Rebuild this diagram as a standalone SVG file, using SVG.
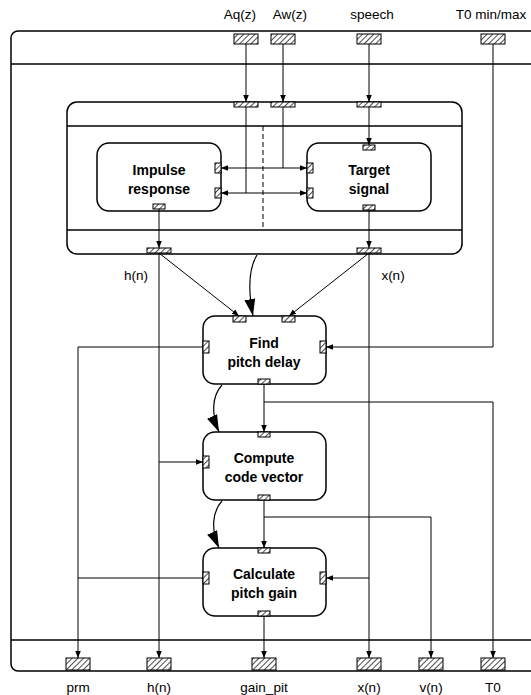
<svg xmlns="http://www.w3.org/2000/svg" width="531" height="695" viewBox="0 0 531 695">
<defs>
<pattern id="hatch" width="4" height="4" patternUnits="userSpaceOnUse" patternTransform="rotate(45)">
<rect width="4" height="4" fill="#fff"/>
<line x1="0" y1="0" x2="0" y2="4" stroke="#000" stroke-width="1.4"/>
</pattern>
<marker id="a" viewBox="0 0 10 10" refX="10" refY="5" markerWidth="7" markerHeight="7" markerUnits="userSpaceOnUse" orient="auto">
<path d="M0,1 L10,5 L0,9 z" fill="#000"/>
</marker>
<marker id="big" viewBox="0 0 10 10" refX="10" refY="5" markerWidth="17" markerHeight="17" markerUnits="userSpaceOnUse" orient="auto">
<path d="M0,1.8 L10,5 L0,8.2 z" fill="#000"/>
</marker>
</defs>
<style>
.frame{fill:#fff;stroke:#000;stroke-width:1.5}
.sep{stroke:#000;stroke-width:1.5;fill:none}
.node{fill:#fff;stroke:#000;stroke-width:1.5}
.port{fill:url(#hatch);stroke:#000;stroke-width:1}
.w{stroke:#000;stroke-width:1;fill:none}
.arr{marker-end:url(#a)}
.curve{stroke:#000;stroke-width:1.2;fill:none;marker-end:url(#big)}
.lbl{font-family:"Liberation Sans",Arial,sans-serif;font-size:13.5px;fill:#000;text-anchor:middle}
.nl{font-family:"Liberation Sans",Arial,sans-serif;font-size:14px;font-weight:bold;fill:#000;text-anchor:middle}
</style>

<g id="outer">
<rect class="frame" x="11" y="31" width="532" height="640" rx="7"/>
<line class="sep" x1="11" y1="64" x2="531" y2="64"/>
<line class="sep" x1="11" y1="640" x2="531" y2="640"/>
<rect class="port" x="234" y="34" width="24" height="10"/>
<rect class="port" x="271" y="34" width="24" height="10"/>
<rect class="port" x="357" y="34" width="24" height="10"/>
<rect class="port" x="481" y="34" width="24" height="10"/>
<rect class="port" x="66" y="658" width="24" height="12"/>
<rect class="port" x="147" y="658" width="24" height="12"/>
<rect class="port" x="252" y="658" width="24" height="12"/>
<rect class="port" x="357" y="658" width="24" height="12"/>
<rect class="port" x="419" y="658" width="24" height="12"/>
<rect class="port" x="481" y="658" width="24" height="12"/>
<text class="lbl" x="240" y="19">Aq(z)</text>
<text class="lbl" x="290" y="19">Aw(z)</text>
<text class="lbl" x="372" y="19">speech</text>
<text class="lbl" x="491" y="19">T0 min/max</text>
<text class="lbl" x="78" y="692">prm</text>
<text class="lbl" x="159" y="692">h(n)</text>
<text class="lbl" x="264" y="692">gain_pit</text>
<text class="lbl" x="369" y="692">x(n)</text>
<text class="lbl" x="431" y="692">v(n)</text>
<text class="lbl" x="493" y="692">T0</text>
<text class="lbl" x="136" y="280">h(n)</text>
<text class="lbl" x="393" y="280">x(n)</text>
</g>

<g id="compute-target">
<rect class="frame" x="67" y="102" width="395" height="152" rx="10"/>
<line class="sep" x1="67" y1="126" x2="462" y2="126"/>
<line class="sep" x1="67" y1="230" x2="462" y2="230"/>
<rect class="port" x="234" y="102" width="24" height="5"/>
<rect class="port" x="271" y="102" width="24" height="5"/>
<rect class="port" x="357" y="102" width="24" height="5"/>
<rect class="port" x="147" y="248" width="24" height="5"/>
<rect class="port" x="357" y="248" width="24" height="5"/>
</g>

<g id="impulse-response">
<rect class="node" x="97" y="143" width="124" height="68" rx="12"/>
<rect class="port" x="215" y="163" width="6" height="10"/>
<rect class="port" x="215" y="188" width="6" height="10"/>
<rect class="port" x="153" y="204" width="12" height="5"/>
<text class="nl" x="159" y="175">Impulse</text>
<text class="nl" x="159" y="194">response</text>
</g>

<g id="target-signal">
<rect class="node" x="307" y="143" width="124" height="68" rx="12"/>
<rect class="port" x="307" y="163" width="6" height="10"/>
<rect class="port" x="307" y="188" width="6" height="10"/>
<rect class="port" x="363" y="145" width="12" height="5"/>
<rect class="port" x="363" y="205" width="12" height="5"/>
<text class="nl" x="369" y="175">Target</text>
<text class="nl" x="369" y="194">signal</text>
</g>

<g id="find-pitch-delay">
<rect class="node" x="203" y="316" width="123" height="68" rx="12"/>
<rect class="port" x="233" y="316" width="13" height="6"/>
<rect class="port" x="282" y="316" width="13" height="6"/>
<rect class="port" x="203" y="341" width="6" height="12"/>
<rect class="port" x="320" y="341" width="6" height="12"/>
<rect class="port" x="258" y="379" width="12" height="5"/>
<text class="nl" x="264" y="348">Find</text>
<text class="nl" x="264" y="367">pitch delay</text>
</g>

<g id="compute-code-vector">
<rect class="node" x="203" y="432" width="123" height="68" rx="12"/>
<rect class="port" x="258" y="432" width="12" height="5"/>
<rect class="port" x="203" y="456" width="6" height="12"/>
<rect class="port" x="258" y="495" width="12" height="5"/>
<text class="nl" x="264" y="463">Compute</text>
<text class="nl" x="264" y="482">code vector</text>
</g>

<g id="calculate-pitch-gain">
<rect class="node" x="203" y="548" width="123" height="68" rx="12"/>
<rect class="port" x="258" y="548" width="12" height="5"/>
<rect class="port" x="203" y="572" width="6" height="12"/>
<rect class="port" x="320" y="572" width="6" height="12"/>
<rect class="port" x="258" y="611" width="12" height="5"/>
<text class="nl" x="264" y="579">Calculate</text>
<text class="nl" x="264" y="598">pitch gain</text>
</g>

<g id="connectors">
<line class="w arr" x1="246" y1="44" x2="246" y2="102"/>
<line class="w arr" x1="283" y1="44" x2="283" y2="102"/>
<line class="w arr" x1="369" y1="44" x2="369" y2="102"/>
<line class="w" x1="246" y1="107" x2="246" y2="193"/>
<line class="w" x1="283" y1="107" x2="283" y2="168"/>
<line class="w arr" x1="369" y1="107" x2="369" y2="145"/>
<line class="w arr" x1="264" y1="168" x2="221" y2="168"/>
<line class="w arr" x1="264" y1="168" x2="307" y2="168"/>
<line class="w arr" x1="264" y1="193" x2="221" y2="193"/>
<line class="w arr" x1="264" y1="193" x2="307" y2="193"/>
<line class="w" x1="263" y1="126" x2="263" y2="230" stroke-dasharray="5,3"/>
<line class="w arr" x1="159" y1="209" x2="159" y2="248"/>
<line class="w arr" x1="369" y1="210" x2="369" y2="248"/>
<line class="w arr" x1="159" y1="253" x2="239" y2="316"/>
<line class="w arr" x1="369" y1="253" x2="289" y2="316"/>
<line class="w arr" x1="159" y1="253" x2="159" y2="658"/>
<line class="w arr" x1="369" y1="253" x2="369" y2="658"/>
<path class="curve" d="M257,255 C249,268 248,290 253,316"/>
<path class="w arr" d="M493,44 V347 H326"/>
<path class="w arr" d="M203,347 H78 V658"/>
<line class="w arr" x1="264" y1="384" x2="264" y2="432"/>
<path class="w arr" d="M264,402 H493 V658"/>
<path class="curve" d="M222,385 C212,396 211,414 219,432"/>
<line class="w arr" x1="159" y1="462" x2="203" y2="462"/>
<line class="w arr" x1="264" y1="500" x2="264" y2="548"/>
<path class="w arr" d="M264,517 H431 V658"/>
<path class="curve" d="M222,501 C212,512 211,530 219,548"/>
<line class="w" x1="203" y1="578" x2="78" y2="578"/>
<line class="w arr" x1="369" y1="578" x2="326" y2="578"/>
<line class="w arr" x1="264" y1="616" x2="264" y2="658"/>
</g>
</svg>
